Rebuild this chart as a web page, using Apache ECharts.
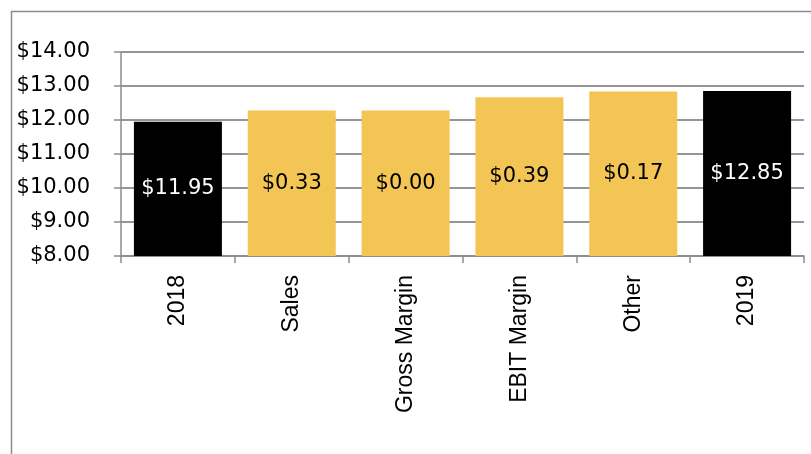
<!DOCTYPE html>
<html>
<head>
<meta charset="utf-8">
<script src="https://cdn.jsdelivr.net/npm/echarts@6/dist/echarts.min.js"></script>
<style>
html,body{margin:0;padding:0;background:#fff;}
#chart{width:811px;height:454px;}
</style>
</head>
<body>
<div id="chart"></div>
<script>
const categories = ['2018', 'Sales', 'Gross Margin', 'EBIT Margin', 'Other', '2019'];
const barTops = [11.95, 12.28, 12.28, 12.67, 12.84, 12.85];
const labelValues = [11.95, 0.33, 0.00, 0.39, 0.17, 12.85];
const barKinds = ['total', 'change', 'change', 'change', 'change', 'total'];
const yMin = 8, yMax = 14, yStep = 1;

const chart = echarts.init(document.getElementById('chart'), null, {renderer: 'canvas'});
const kindColor = {total: '#000000', change: '#F2C554'};
const kindText = {total: '#ffffff', change: '#000000'};

chart.setOption({
  animation: false,
  backgroundColor: '#ffffff',
  graphic: [{
    type: 'rect',
    shape: {x: 11.5, y: 11.5, width: 1000, height: 1000},
    style: {fill: 'none', stroke: '#8c8c8c', lineWidth: 1.5},
    silent: true,
    z: -10
  }],
  grid: {left: 121, right: 7, top: 52, bottom: 198, containLabel: false},
  xAxis: {
    type: 'category',
    data: categories,
    axisLine: {show: true, lineStyle: {color: '#8c8c8c', width: 1.5}},
    axisTick: {show: true, length: 7, alignWithLabel: false, lineStyle: {color: '#8c8c8c', width: 1.5}},
    axisLabel: {
      rotate: 90,
      margin: 19,
      interval: 0,
      color: '#000',
      fontFamily: 'Liberation Sans',
      fontSize: 23
    },
    splitLine: {show: false}
  },
  yAxis: {
    type: 'value',
    min: yMin,
    max: yMax,
    interval: yStep,
    axisLine: {show: true, lineStyle: {color: '#8c8c8c', width: 1.5}},
    axisTick: {show: true, length: 7, lineStyle: {color: '#8c8c8c', width: 1.5}},
    axisLabel: {
      margin: 31,
      color: '#000',
      fontFamily: 'DejaVu Sans',
      fontSize: 21,
      formatter: v => '$' + v.toFixed(2)
    },
    splitLine: {show: true, lineStyle: {color: '#959595', width: 2}}
  },
  series: [{
    type: 'bar',
    barWidth: 88,
    clip: true,
    data: barTops.map((v, i) => ({
      value: v,
      itemStyle: {color: kindColor[barKinds[i]]},
      label: {color: kindText[barKinds[i]]}
    })),
    label: {
      show: true,
      position: 'inside',
      fontFamily: 'DejaVu Sans',
      fontSize: 21,
      formatter: p => '$' + labelValues[p.dataIndex].toFixed(2)
    }
  }]
});
</script>
</body>
</html>
